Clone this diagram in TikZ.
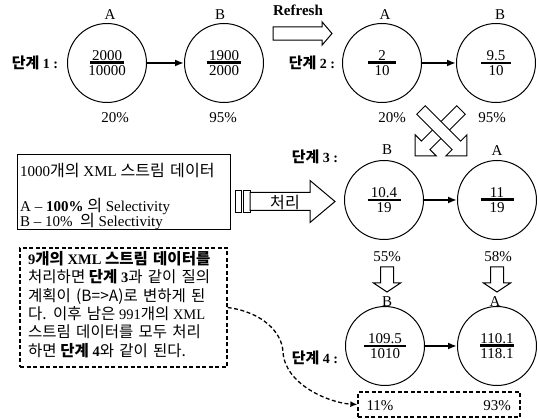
\documentclass[tikz,border=0pt]{standalone}
\usepackage{fontspec}
\setmainfont{Liberation Serif}
\newfontfamily\krfont[Scale=1.07, WordSpace=1.5]{Noto Sans CJK KR}
\usetikzlibrary{arrows.meta}

% Korean text runs
\newcommand\K[1]{{\krfont #1}}
\newcommand\KB[1]{{\krfont\bfseries #1}}
% fraction with a heavy bar of fixed width
\newcommand\fracbox[3]{\vbox{\hbox to #3{\hss#1\hss}\kern1.2pt\hrule height 2.4pt\kern1.8pt\hbox to #3{\hss#2\hss}}}
\newcommand\stagetitle[1]{\KB{단계} \textbf{#1 :}}
% hollow block arrow along +x: length, body half-width, head half-width, head length
\newcommand\blockarrow[4]{(0,-#2) -- ({#1-#4},-#2) -- ({#1-#4},-#3) -- (#1,0) -- ({#1-#4},#3) -- ({#1-#4},#2) -- (0,#2) -- cycle}

\begin{document}
\begin{tikzpicture}[x=1pt, y=-1pt,
  every node/.style={inner sep=0pt, font=\fontsize{15}{17}\selectfont},
  stage/.style={circle, draw, line width=1pt, minimum size=79pt},
  conn/.style={line width=2pt, -{Latex[length=9pt,width=7pt]}},
  hollow/.style={draw, line width=1pt, fill=white, line join=miter},
  dashline/.style={line width=1.3pt, dash pattern=on 4pt off 2.5pt},
  notetext/.style={anchor=base west, font=\fontsize{14.5}{18}\selectfont},
  titletext/.style={font=\fontsize{14}{17}\selectfont},
]
\useasboundingbox (0,0) rectangle (538,419);

% ---- stage 1
\node[titletext] (t1) at (35,63) {\stagetitle{1}};
\node[stage] (A1) at (107,63) {\fracbox{2000}{10000}{34pt}};
\node[stage] (B1) at (224,63) {\fracbox{1900}{2000}{34pt}};
\node (la1) at (110,15) {A};
\node (lb1) at (220,15) {B};
\node (pa1) at (115,118) {20\%};
\node (pb1) at (223,118) {95\%};
\draw[conn] (A1) -- (B1);

% ---- refresh
\node[font=\bfseries\fontsize{15}{17}\selectfont] (rf) at (298,10) {Refresh};
\draw[hollow, shift={(273,33.5)}] \blockarrow{59}{6.7}{11.7}{10};

% ---- stage 2
\node[titletext] (t2) at (312,63) {\stagetitle{2}};
\node[stage] (A2) at (382,63) {\fracbox{2}{10}{28pt}};
\node[stage] (B2) at (496,63) {\fracbox{9.5}{10}{30pt}};
\node (la2) at (385,15) {A};
\node (lb2) at (500,15) {B};
\node (pa2) at (392,118) {20\%};
\node (pb2) at (492,118) {95\%};
\draw[conn] (A2) -- (B2);

% ---- order swap
\draw[hollow, shift={(461,110)}, rotate=-135] \blockarrow{65}{6}{15}{15};
\draw[hollow, shift={(421,110)}, rotate=-45] \blockarrow{65}{6}{15}{15};

% ---- input description
\node[draw, line width=1pt, minimum width=213pt, minimum height=75pt] (info) at (123.5,192.5) {};
\node[anchor=base west] (i1) at (20,177) {1000\K{개의} XML \K{스트림 데이터}};
\node[anchor=base west] (i2) at (20,211.5) {A – \textbf{100\%} \K{의} Selectivity};
\node[anchor=base west] (i3) at (20,226.5) {B – 10\%\ \ \K{의} Selectivity};

% ---- processing arrow
\draw[hollow] (235,190.5) rectangle (241.5,212.5);
\draw[hollow] (243.5,190.5) rectangle (250,212.5);
\draw[hollow, shift={(250,201.5)}] \blockarrow{85}{9}{21}{25};
\node[font=\krfont\fontsize{15}{17}\selectfont] (proc) at (285,202) {처리};

% ---- stage 3
\node[titletext] (t3) at (315,157) {\stagetitle{3}};
\node[stage] (B3) at (384,200) {\fracbox{10.4}{19}{33pt}};
\node[stage] (A3) at (497,200) {\fracbox{11}{19}{33pt}};
\node (lb3) at (387,150) {B};
\node (la3) at (497,151) {A};
\node (pb3) at (387,257) {55\%};
\node (pa3) at (498,257) {58\%};
\draw[conn] (B3) -- (A3);

\draw[hollow, shift={(387,267)}, rotate=-90] \blockarrow{25}{6.5}{13.5}{9};
\draw[hollow, shift={(497,267)}, rotate=-90] \blockarrow{25}{6.5}{13.5}{9};

% ---- stage 4
\node[titletext] (t4) at (315,358) {\stagetitle{4}};
\node[stage] (B4) at (385,346) {\fracbox{109.5}{1010}{42pt}};
\node[stage] (A4) at (497,346) {\fracbox{110.1}{118.1}{34pt}};
\node (lb4) at (387,302) {B};
\node (la4) at (495,302) {A};
\draw[conn] (B4) -- (A4);

\node[draw, dashline, minimum width=162pt, minimum height=25pt] (pct) at (439,404.5) {};
\node (p11) at (380,406) {11\%};
\node (p93) at (497,406) {93\%};

% ---- explanatory note
\node[draw, dashline, minimum width=207pt, minimum height=119pt] (note) at (123.5,307.5) {};
\node[notetext] (n1) at (28,265) {\textbf{9}\KB{개의} \textbf{XML} \KB{스트림 데이터를}};
\node[notetext] (n2) at (28,283) {\K{처리하면} \KB{단계} \textbf{3}\K{과 같이 질의}};
\node[notetext] (n3) at (28,302) {\K{계획이 (B=>A)로 변하게 된}};
\node[notetext] (n4) at (28,320) {\K{다. 이후 남은} 991\K{개의} XML};
\node[notetext] (n5) at (28,338) {\K{스트림 데이터를 모두 처리}};
\node[notetext] (n6) at (28,357) {\K{하면} \KB{단계} \textbf{4}\K{와 같이 된다.}};

\draw[dashline, -{Latex[length=7pt,width=6pt]}] (note.east) .. controls (262,312) and (282,332) .. (283,352) .. controls (285,385) and (330,403) .. (pct.west);

\end{tikzpicture}
\end{document}
